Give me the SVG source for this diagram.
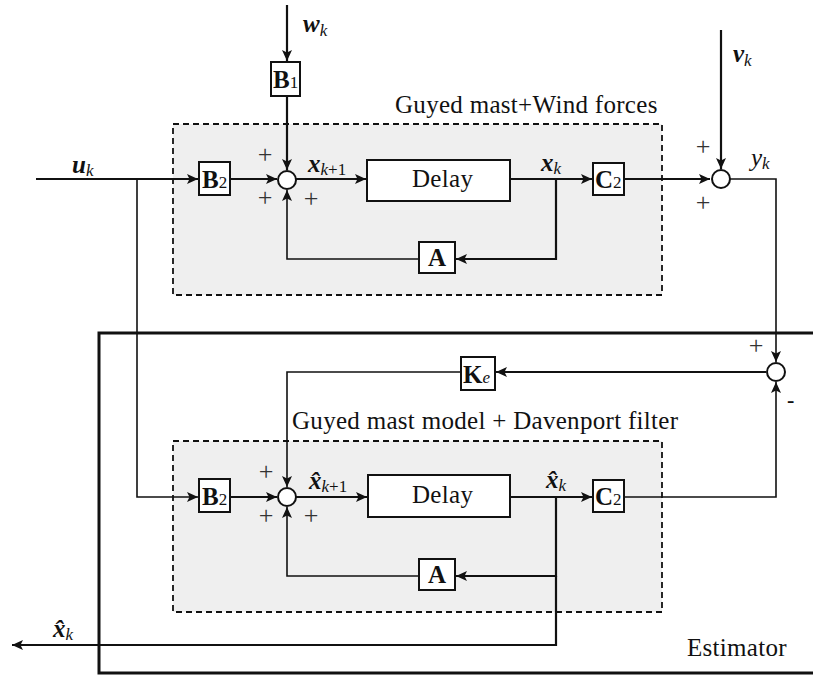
<svg xmlns="http://www.w3.org/2000/svg" width="813" height="678" viewBox="0 0 813 678" font-family="Liberation Serif, serif">
<style>
.t{font-family:"Liberation Serif","Times New Roman",serif;fill:#111}
.ttl{font-size:25px;letter-spacing:0.3px}
.bb{font-weight:bold;font-size:25px}
.sub{font-size:17px}
.var{font-weight:bold;font-style:italic;font-size:25px}
.iv{font-style:italic;font-size:25px}
.k{font-style:italic;font-size:17px}
.pm{font-size:26px;fill:#333;text-anchor:middle}
.box{fill:#fff;stroke:#111;stroke-width:2}
.sum{fill:#fff;stroke:#111;stroke-width:2}
.dash{fill:#efefef;stroke:#111;stroke-width:1.8;stroke-dasharray:6,4}
.c{fill:none;stroke:#111;stroke-width:2.2}
.cn{fill:none;stroke:#111;stroke-width:1.6}
</style>
<defs>
<marker id="ar" markerUnits="userSpaceOnUse" markerWidth="12" markerHeight="10" refX="11" refY="5" orient="auto">
<path d="M0,0 L11,5 L0,10 L2.5,5 z" fill="#111"/>
</marker>
</defs>

<g id="estimator">
<rect x="99" y="333" width="730" height="340" fill="none" stroke="#111" stroke-width="3"/>
<text class="t ttl" x="687" y="656">Estimator</text>
</g>

<g id="plant-frame">
<rect class="dash" x="173" y="124" width="489" height="171"/>
<text class="t ttl" x="395" y="113">Guyed mast+Wind forces</text>
</g>
<g id="model-frame">
<rect class="dash" x="173" y="441" width="489" height="171"/>
<text class="t ttl" x="292" y="429">Guyed mast model + Davenport filter</text>
</g>

<g id="connectors">
<path class="c" d="M287,5 V61" marker-end="url(#ar)"/>
<path class="c" d="M287,96 V170" marker-end="url(#ar)"/>
<path class="c" d="M36,179 H198" marker-end="url(#ar)"/>
<path class="c" d="M230,179 H277" marker-end="url(#ar)"/>
<path class="c" d="M296,179 H366" marker-end="url(#ar)"/>
<path class="c" d="M510,179 H592" marker-end="url(#ar)"/>
<path class="c" d="M556,179 V259 H456" marker-end="url(#ar)"/>
<path class="cn" d="M419,259 H287 V190" marker-end="url(#ar)"/>
<path class="c" d="M624,179 H710" marker-end="url(#ar)"/>
<path class="c" d="M721,30 V169" marker-end="url(#ar)"/>
<path class="cn" d="M730,179 H776 V362" marker-end="url(#ar)"/>
<path class="cn" d="M137,179 V497 H198" marker-end="url(#ar)"/>
<path class="c" d="M766,372 H496" marker-end="url(#ar)"/>
<path class="cn" d="M461,372 H287 V487" marker-end="url(#ar)"/>
<path class="c" d="M230,497 H277" marker-end="url(#ar)"/>
<path class="c" d="M296,497 H367" marker-end="url(#ar)"/>
<path class="c" d="M510,497 H592" marker-end="url(#ar)"/>
<path class="c" d="M556,497 V576 H456" marker-end="url(#ar)"/>
<path class="cn" d="M419,576 H287 V507" marker-end="url(#ar)"/>
<path class="cn" d="M624,497 H776 V382" marker-end="url(#ar)"/>
<path class="c" d="M556,576 V645 H12" marker-end="url(#ar)"/>
</g>

<g id="B1">
<rect class="box" x="271" y="62" width="29" height="34"/>
<text class="t" x="273" y="88"><tspan class="bb">B</tspan><tspan class="sub">1</tspan></text>
</g>
<g id="B2-top">
<rect class="box" x="199" y="162" width="31" height="33"/>
<text class="t" x="202" y="188"><tspan class="bb">B</tspan><tspan class="sub">2</tspan></text>
</g>
<g id="sum-top">
<circle class="sum" cx="287" cy="180" r="9"/>
<text class="t pm" x="265" y="163">+</text>
<text class="t pm" x="265" y="206">+</text>
<text class="t pm" x="311" y="207">+</text>
</g>
<g id="delay-top">
<rect class="box" x="367" y="160" width="143" height="41"/>
<text class="t ttl" x="412" y="187">Delay</text>
</g>
<g id="A-top">
<rect class="box" x="419" y="242" width="36" height="31"/>
<text class="t bb" x="437" y="266" text-anchor="middle">A</text>
</g>
<g id="C2-top">
<rect class="box" x="593" y="163" width="31" height="32"/>
<text class="t" x="595" y="188"><tspan class="bb">C</tspan><tspan class="sub">2</tspan></text>
</g>
<g id="sum-out">
<circle class="sum" cx="721" cy="179" r="9"/>
<text class="t pm" x="703" y="155">+</text>
<text class="t pm" x="703" y="211">+</text>
</g>

<g id="sum-err">
<circle class="sum" cx="776" cy="372" r="9"/>
<text class="t pm" x="756" y="354">+</text>
<text class="t" x="787" y="407" style="font-size:22px;font-weight:bold">-</text>
</g>
<g id="Ke">
<rect class="box" x="461" y="357" width="34" height="33"/>
<text class="t" x="463" y="383"><tspan class="bb">K</tspan><tspan class="k">e</tspan></text>
</g>
<g id="B2-bot">
<rect class="box" x="199" y="479" width="31" height="33"/>
<text class="t" x="202" y="505"><tspan class="bb">B</tspan><tspan class="sub">2</tspan></text>
</g>
<g id="sum-bot">
<circle class="sum" cx="287" cy="497" r="9"/>
<text class="t pm" x="266" y="480">+</text>
<text class="t pm" x="266" y="524">+</text>
<text class="t pm" x="311" y="524">+</text>
</g>
<g id="delay-bot">
<rect class="box" x="368" y="475" width="142" height="42"/>
<text class="t ttl" x="412" y="503">Delay</text>
</g>
<g id="A-bot">
<rect class="box" x="419" y="559" width="36" height="31"/>
<text class="t bb" x="437" y="583" text-anchor="middle">A</text>
</g>
<g id="C2-bot">
<rect class="box" x="593" y="480" width="31" height="32"/>
<text class="t" x="595" y="505"><tspan class="bb">C</tspan><tspan class="sub">2</tspan></text>
</g>

<g id="labels">
<text class="t" x="303" y="32"><tspan class="var">w</tspan><tspan class="k" dy="4">k</tspan></text>
<text class="t" x="72" y="173"><tspan class="var">u</tspan><tspan class="k" dy="3">k</tspan></text>
<text class="t" x="308" y="172"><tspan class="var">x</tspan><tspan class="k" dy="3">k</tspan><tspan class="sub">+1</tspan></text>
<text class="t" x="541" y="171"><tspan class="var">x</tspan><tspan class="k" dy="3">k</tspan></text>
<text class="t" x="733" y="62"><tspan class="var">v</tspan><tspan class="k" dy="4">k</tspan></text>
<text class="t" x="751" y="166"><tspan class="iv">y</tspan><tspan class="k" dy="3">k</tspan></text>
<text class="t" x="309" y="489"><tspan class="var">x&#x302;</tspan><tspan class="k" dy="3">k</tspan><tspan class="sub">+1</tspan></text>
<text class="t" x="546" y="488"><tspan class="var">x&#x302;</tspan><tspan class="k" dy="3">k</tspan></text>
<text class="t" x="53" y="637"><tspan class="var">x&#x302;</tspan><tspan class="k" dy="3">k</tspan></text>
</g>
</svg>
